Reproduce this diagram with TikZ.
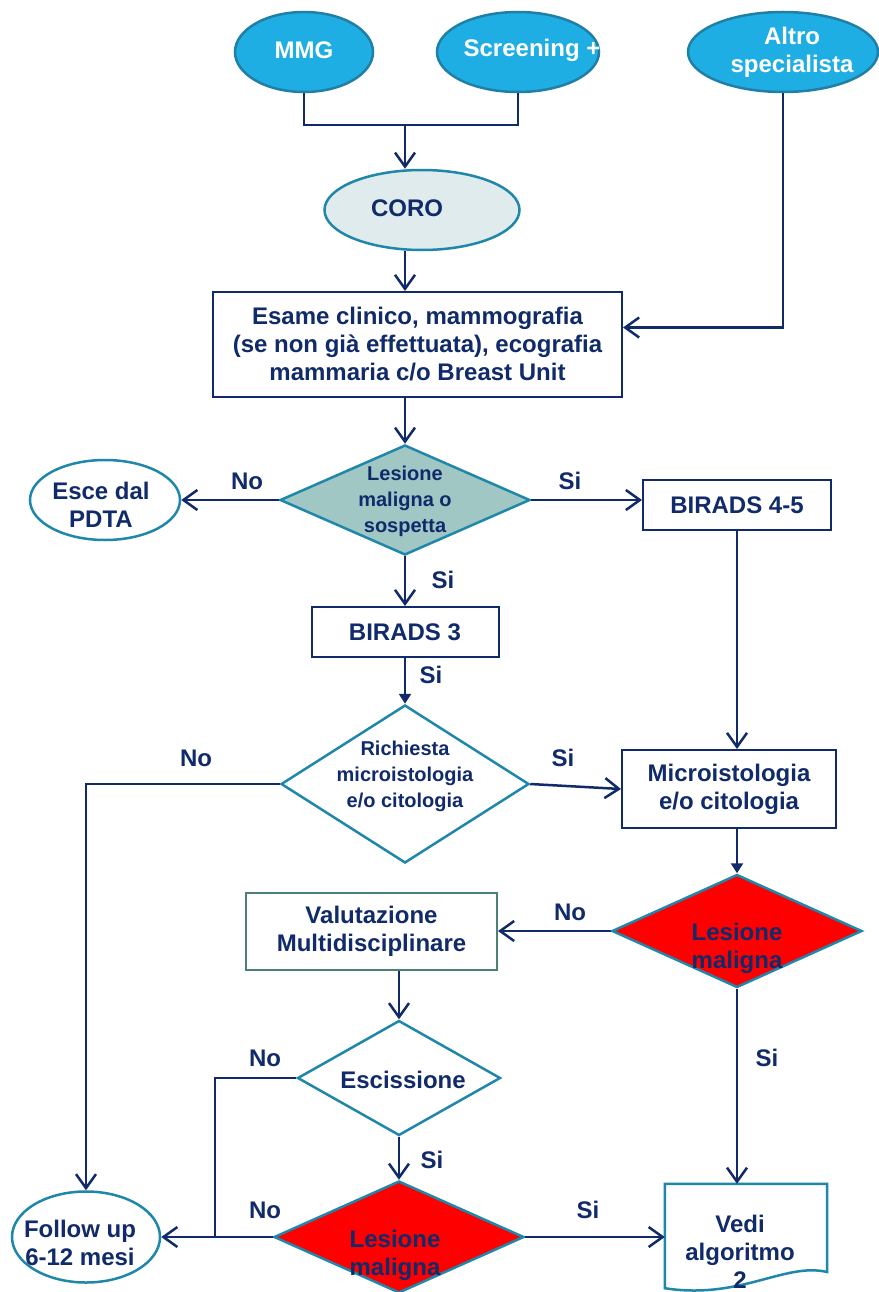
\documentclass[tikz,border=0pt]{standalone}
\usepackage{fontspec}
\setmainfont{Liberation Sans}
\usetikzlibrary{shapes.geometric,arrows.meta}
\definecolor{navy}{HTML}{102A6A}
\definecolor{ovalblue}{HTML}{1FAEE3}
\definecolor{ovalline}{HTML}{1F7FA6}
\definecolor{tealline}{HTML}{1E87AA}
\definecolor{decfill}{HTML}{A0C7C4}
\definecolor{corofill}{HTML}{DFEBEC}
\definecolor{valline}{HTML}{4F8078}
\begin{document}
\begin{tikzpicture}[x=1pt,y=-1pt,
        txt/.style={align=center,text=navy,inner sep=0pt,font=\bfseries\fontsize{24pt}{28pt}\selectfont},
        small/.style={txt,font=\bfseries\fontsize{20pt}{26pt}\selectfont},
        oval/.style={ellipse,draw=tealline,line width=2.5pt,inner sep=0pt,fill=white},
        blue oval/.style={oval,draw=ovalline,fill=ovalblue},
        dec/.style={diamond,draw=tealline,line width=2.5pt,inner sep=0pt,fill=white},
        box/.style={txt,rectangle,draw=navy,line width=2pt,fill=white},
        link/.style={draw=navy,line width=2.5pt},
        arr/.style={link,-{Straight Barb[length=14pt,width=20pt]}},
        farr/.style={link,-{Triangle[length=10pt,width=12pt]}}]
    \fill[white] (0,0) rectangle (878,1292);
    \useasboundingbox (0,0) rectangle (878,1292);

    \node[blue oval,minimum width=138pt,minimum height=80pt] (mmg) at (304,52) {};
    \node[txt,text=white] (mmg-t) at (304,50) {MMG};
    \node[blue oval,minimum width=162pt,minimum height=80pt] (scr) at (518,52) {};
    \node[txt,text=white] (scr-t) at (532,50) {Screening +};
    \node[blue oval,minimum width=190pt,minimum height=80pt] (alt) at (783,52) {};
    \node[txt,text=white] (alt-t) at (792,52) {Altro\\specialista};

    \node[oval,fill=corofill,minimum width=195pt,minimum height=80pt] (coro) at (422,210) {};
    \node[txt] (coro-t) at (407,208) {CORO};
    \node[box,minimum width=409pt,minimum height=105pt] (esame) at (417.5,344.5) {Esame clinico, mammografia\\(se non già effettuata), ecografia\\mammaria c/o Breast Unit};

    \node[dec,fill=decfill,minimum width=250pt,minimum height=110pt] (d1) at (405,500) {};
    \node[small] (d1-t) at (405,501) {Lesione\\maligna o\\sospetta};
    \node[oval,minimum width=150pt,minimum height=80pt] (esce) at (105,500) {};
    \node[txt] (esce-t) at (101,505) {Esce dal\\PDTA};
    \node[box,minimum width=188pt,minimum height=50pt] (b45) at (737,505) {BIRADS 4-5};
    \node[box,minimum width=187pt,minimum height=50pt] (b3) at (405,632) {BIRADS 3};

    \node[dec,minimum width=248pt,minimum height=158pt] (d2) at (405,784) {};
    \node[small] (d2-t) at (405,776) {Richiesta\\microistologia\\e/o citologia};
    \node[box,minimum width=214pt,minimum height=78pt] (micro) at (729,789) {Microistologia\\e/o citologia};

    \node[dec,fill=red,minimum width=250pt,minimum height=113pt] (d3) at (737,931) {};
    \node[txt] (d3-t) at (737,948) {Lesione\\maligna};
    \node[box,draw=valline,minimum width=251pt,minimum height=77pt] (val) at (371.5,931.5) {Valutazione\\Multidisciplinare};

    \node[dec,minimum width=203pt,minimum height=115pt] (d4) at (399,1078) {};
    \node[txt] (d4-t) at (403,1080) {Escissione};
    \node[dec,fill=red,minimum width=250pt,minimum height=112pt] (d5) at (399,1237) {};
    \node[txt] (d5-t) at (395,1255) {Lesione\\maligna};
    \node[oval,minimum width=148pt,minimum height=91pt] (fu) at (86,1237) {};
    \node[txt] (fu-t) at (80,1243) {Follow up\\6-12 mesi};

    \node[minimum width=162pt,minimum height=104pt,inner sep=0pt] (vedi) at (746,1236) {};
    \draw[draw=tealline,line width=2.5pt,fill=white] (vedi.north west) -- (vedi.north east) -- (827,1272) .. controls (785,1262) and (740,1300) .. (vedi.south west) -- cycle;
    \node[txt] (vedi-t) at (740,1252) {Vedi\\algoritmo\\2};

    \node[txt] (no1) at (247,481) {No};
    \node[txt] (si1) at (570,481) {Si};
    \node[txt] (si2) at (443,580) {Si};
    \node[txt] (si3) at (431,675) {Si};
    \node[txt] (no2) at (196,758) {No};
    \node[txt] (si4) at (563,758) {Si};
    \node[txt] (no3) at (570,912) {No};
    \node[txt] (si5) at (767,1058) {Si};
    \node[txt] (no4) at (265,1058) {No};
    \node[txt] (si6) at (432,1160) {Si};
    \node[txt] (no5) at (265,1210) {No};
    \node[txt] (si7) at (588,1210) {Si};

    \coordinate (j1) at (405,125);
    \coordinate (j2) at (215,1237);
    \draw[link] (mmg.south) |- (j1) -| (scr.south);
    \draw[arr] (j1) -- (j1 |- coro.north);
    \draw[arr] (j1 |- coro.south) -- (j1 |- esame.north);
    \draw[arr] (alt.south) |- ([yshift=17pt]esame.east);
    \draw[arr] (j1 |- esame.south) -- (d1.north);
    \draw[arr] (d1.west) -- (esce.east);
    \draw[arr] (d1.east) -- (d1.east -| b45.west);
    \draw[arr] (d1.south) -- (b3.north);
    \draw[farr] (b3.south) -- (d2.north);
    \draw[arr] (d2.west) -| (fu.north);
    \draw[arr] (d2.east) -- (micro.west);
    \draw[arr] (b45.south) -- (b45.south |- micro.north);
    \draw[farr] (d3.north |- micro.south) -- (d3.north);
    \draw[arr] (d3.west) -- (d3.west -| val.east);
    \draw[arr] (d4.north |- val.south) -- (d4.north);
    \draw[link] (d4.west) -| (j2);
    \draw[arr] (d5.west) -- (fu.east);
    \draw[arr] (d4.south) -- (d5.north);
    \draw[arr] (d3.south) -- (d3.south |- vedi.north);
    \draw[arr] (d5.east) -- (d5.east -| vedi.west);
\end{tikzpicture}
\end{document}
